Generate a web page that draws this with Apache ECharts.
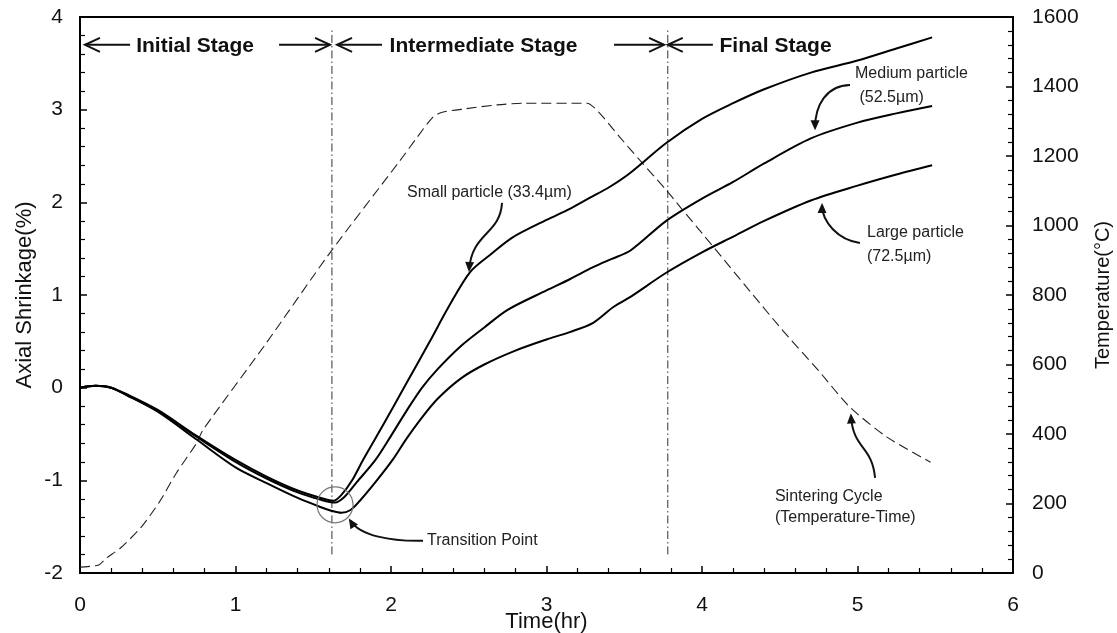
<!DOCTYPE html>
<html>
<head>
<meta charset="utf-8">
<script src="https://cdn.jsdelivr.net/npm/echarts@6/dist/echarts.min.js"></script>
<style>
  html, body { margin: 0; padding: 0; background: #fff; }
  #chart { width: 1117px; height: 633px; }
</style>
</head>
<body>
<div id="chart"></div>
<script>
const FONT = '"Liberation Sans", Arial, Helvetica, sans-serif';

// Axial shrinkage (%) versus time (hr) for the three particle sizes
const smallTime   = [0, 0.1, 0.2, 0.3, 0.5, 0.75, 1.0, 1.2, 1.4, 1.55, 1.63, 1.68, 1.75, 1.82, 1.95, 2.1, 2.25, 2.37, 2.51, 2.65, 2.78, 3.0, 3.15, 3.28, 3.4, 3.54, 3.77, 4.0, 4.2, 4.4, 4.7, 5.0, 5.25, 5.48];
const smallShrink = [0, 0.02, 0.0, -0.07, -0.24, -0.52, -0.78, -0.96, -1.11, -1.19, -1.22, -1.16, -1.0, -0.78, -0.40, 0.05, 0.50, 0.87, 1.25, 1.45, 1.62, 1.81, 1.93, 2.05, 2.16, 2.32, 2.64, 2.90, 3.07, 3.22, 3.40, 3.53, 3.66, 3.78];

const mediumTime   = [0, 0.1, 0.2, 0.3, 0.5, 0.75, 1.0, 1.2, 1.4, 1.55, 1.64, 1.7, 1.78, 1.9, 2.0, 2.1, 2.2, 2.3, 2.45, 2.6, 2.75, 3.0, 3.15, 3.3, 3.42, 3.54, 3.77, 4.0, 4.2, 4.4, 4.7, 5.0, 5.25, 5.48];
const mediumShrink = [0, 0.02, 0.0, -0.08, -0.25, -0.53, -0.80, -0.98, -1.13, -1.21, -1.24, -1.18, -1.02, -0.78, -0.52, -0.25, 0.0, 0.2, 0.45, 0.65, 0.84, 1.05, 1.17, 1.30, 1.39, 1.48, 1.80, 2.04, 2.22, 2.42, 2.69, 2.86, 2.96, 3.04];

const largeTime   = [0, 0.1, 0.2, 0.3, 0.5, 0.75, 1.0, 1.2, 1.4, 1.55, 1.62, 1.68, 1.74, 1.8, 1.9, 2.01, 2.1, 2.2, 2.3, 2.45, 2.6, 2.8, 3.0, 3.15, 3.3, 3.43, 3.54, 3.77, 4.0, 4.2, 4.4, 4.7, 5.0, 5.25, 5.48];
const largeShrink = [0, 0.02, 0.0, -0.08, -0.26, -0.56, -0.86, -1.03, -1.19, -1.29, -1.33, -1.35, -1.32, -1.22, -1.02, -0.78, -0.55, -0.32, -0.12, 0.10, 0.25, 0.40, 0.52, 0.60, 0.70, 0.87, 0.98, 1.24, 1.46, 1.63, 1.80, 2.02, 2.18, 2.30, 2.40];

// Sintering cycle: furnace temperature (°C) versus time (hr)
const tempTime  = [0, 0.12, 0.17, 0.26, 0.39, 0.51, 0.62, 0.75, 0.79, 1.2, 1.6, 2.06, 2.17, 2.27, 2.33, 2.48, 2.68, 2.85, 3.26, 3.34, 3.47, 3.60, 3.77, 3.86, 4.0, 4.5, 4.75, 4.95, 5.19, 5.47];
const tempValue = [17, 23, 43, 72, 130, 204, 288, 374, 411, 663, 917, 1188, 1255, 1312, 1326, 1336, 1347, 1352, 1352, 1324, 1255, 1188, 1102, 1053, 978, 708, 582, 478, 391, 319];

// Stage boundaries (hr)
const stageBounds = [1.62, 3.78];

const pairs = (xs, ys) => xs.map((x, i) => [x, ys[i]]);

const chart = echarts.init(document.getElementById('chart'), null, { renderer: 'canvas' });

const axisCommon = {
  axisLine: { show: true, onZero: false, lineStyle: { color: '#000', width: 2 } },
  axisTick: { show: true, inside: true, length: 7, lineStyle: { color: '#000', width: 1.5 } },
  minorTick: { show: true, splitNumber: 5, length: 5, lineStyle: { color: '#000', width: 1.2 } },
  splitLine: { show: false },
  minorSplitLine: { show: false },
  nameMoveOverlap: false,
  axisLabel: { color: '#111', fontFamily: FONT, fontSize: 21 },
  nameTextStyle: { color: '#111', fontFamily: FONT, fontSize: 20 }
};

const curveStyle = { color: '#000', width: 2 };

const series = [
  {
    name: 'Small particle (33.4µm)', type: 'line', xAxisIndex: 0, yAxisIndex: 0,
    data: pairs(smallTime, smallShrink), showSymbol: false, smooth: 0.3,
    lineStyle: curveStyle, z: 5, silent: true
  },
  {
    name: 'Medium particle (52.5µm)', type: 'line', xAxisIndex: 0, yAxisIndex: 0,
    data: pairs(mediumTime, mediumShrink), showSymbol: false, smooth: 0.3,
    lineStyle: curveStyle, z: 5, silent: true
  },
  {
    name: 'Large particle (72.5µm)', type: 'line', xAxisIndex: 0, yAxisIndex: 0,
    data: pairs(largeTime, largeShrink), showSymbol: false, smooth: 0.3,
    lineStyle: curveStyle, z: 5, silent: true
  },
  {
    name: 'Sintering Cycle', type: 'line', xAxisIndex: 0, yAxisIndex: 1,
    data: pairs(tempTime, tempValue), showSymbol: false, smooth: 0.25,
    lineStyle: { color: '#222', width: 1.1, type: [10, 5] }, z: 4, silent: true
  }
];

// Dash-dot boundaries between sintering stages
stageBounds.forEach(b => {
  series.push({
    type: 'line', xAxisIndex: 0, yAxisIndex: 0,
    data: [[b, -1.8], [b, 3.86]], showSymbol: false, silent: true,
    lineStyle: { color: '#333', width: 1, type: [8, 3, 1.5, 3] }, z: 3
  });
});

chart.setOption({
  animation: false,
  backgroundColor: '#fff',
  grid: {
    left: 80, right: 104, top: 17, bottom: 60,
    containLabel: false, outerBoundsMode: 'none',
    show: true, borderColor: '#000', borderWidth: 2, backgroundColor: 'transparent'
  },
  xAxis: Object.assign({}, axisCommon, {
    type: 'value', min: 0, max: 6, interval: 1,
    name: 'Time(hr)', nameLocation: 'middle', nameGap: 38,
    axisLabel: Object.assign({}, axisCommon.axisLabel, { margin: 22 }),
    nameTextStyle: Object.assign({}, axisCommon.nameTextStyle, { fontSize: 22 })
  }),
  yAxis: [
    Object.assign({}, axisCommon, {
      type: 'value', min: -2, max: 4, interval: 1, position: 'left',
      name: 'Axial Shrinkage(%)', nameLocation: 'middle', nameRotate: 90, nameGap: 44,
      axisLabel: Object.assign({}, axisCommon.axisLabel, { margin: 17 }),
      nameTextStyle: Object.assign({}, axisCommon.nameTextStyle, { fontSize: 22 })
    }),
    Object.assign({}, axisCommon, {
      type: 'value', min: 0, max: 1600, interval: 200, position: 'right',
      name: 'Temperature(°C)', nameLocation: 'middle', nameRotate: 90, nameGap: 80,
      axisLabel: Object.assign({}, axisCommon.axisLabel, { margin: 19, formatter: v => String(v) })
    })
  ],
  series: series
});

// ---- annotations (placed in time / shrinkage coordinates) ----
const px = (t, v) => chart.convertToPixel({ xAxisIndex: 0, yAxisIndex: 0 }, [t, v]);
const INK = '#111';
const graphics = [];

function addText(t, v, text, opts) {
  const [x, y] = px(t, v);
  graphics.push({
    type: 'text', x: x, y: y, z: 20, silent: true,
    style: Object.assign({
      text: text, fill: '#222', font: '16px ' + FONT,
      textAlign: 'left', textVerticalAlign: 'middle'
    }, opts || {})
  });
}

// horizontal arrow with an open chevron head
function stageArrow(t1, t2, v, headAtStart) {
  const [x1, y] = px(t1, v);
  const [x2] = px(t2, v);
  graphics.push({
    type: 'line', z: 20, silent: true,
    shape: { x1: x1, y1: y, x2: x2, y2: y },
    style: { stroke: INK, lineWidth: 2 }
  });
  const tipX = headAtStart ? x1 : x2;
  const dir = headAtStart ? 1 : -1;
  graphics.push({
    type: 'polyline', z: 20, silent: true,
    shape: { points: [[tipX + dir * 15, y - 7], [tipX, y], [tipX + dir * 15, y + 7]] },
    style: { stroke: INK, lineWidth: 2, fill: null }
  });
}

const stageY = 3.70;
const stages = [
  { label: 'Initial Stage', at: 0.74, left: [0.032, 0.322], right: [1.28, 1.608] },
  { label: 'Intermediate Stage', at: 2.595, left: [1.653, 1.942], right: [3.434, 3.756] },
  { label: 'Final Stage', at: 4.473, left: [3.78, 4.07], right: null }
];
stages.forEach(s => {
  const [x, y] = px(s.at, stageY);
  graphics.push({
    type: 'text', x: x, y: y + 1, z: 20, silent: true,
    style: { text: s.label, fill: '#111', font: 'bold 21px ' + FONT, textAlign: 'center', textVerticalAlign: 'middle' }
  });
  stageArrow(s.left[0], s.left[1], stageY, true);
  if (s.right) stageArrow(s.right[0], s.right[1], stageY, false);
});

// curved pointer with a filled head at its end
function pointer(p0, c1, c2, p1) {
  const a = px(p0[0], p0[1]), b = px(c1[0], c1[1]), c = px(c2[0], c2[1]), d = px(p1[0], p1[1]);
  graphics.push({
    type: 'bezierCurve', z: 20, silent: true,
    shape: { x1: a[0], y1: a[1], cpx1: b[0], cpy1: b[1], cpx2: c[0], cpy2: c[1], x2: d[0], y2: d[1] },
    style: { stroke: INK, lineWidth: 2, fill: null }
  });
  const dx = d[0] - c[0], dy = d[1] - c[1];
  const len = Math.hypot(dx, dy) || 1;
  const ux = dx / len, uy = dy / len;
  const L = 10, W = 4.5;
  const tip = [d[0] + ux * 2, d[1] + uy * 2];
  const base = [tip[0] - ux * L, tip[1] - uy * L];
  graphics.push({
    type: 'polygon', z: 21, silent: true,
    shape: { points: [tip, [base[0] - uy * W, base[1] + ux * W], [base[0] + uy * W, base[1] - ux * W]] },
    style: { fill: INK, stroke: null }
  });
}

// transition point marker
const tc = px(1.640, -1.264);
graphics.push({
  type: 'circle', z: 19, silent: true,
  shape: { cx: tc[0], cy: tc[1], r: 18 },
  style: { stroke: '#777', lineWidth: 1.2, fill: null }
});
pointer([2.206, -1.652], [2.0, -1.66], [1.80, -1.60], [1.736, -1.43]);
addText(2.232, -1.652, 'Transition Point');

// particle labels
addText(2.103, 2.101, 'Small particle (33.4µm)');
pointer([2.714, 1.994], [2.701, 1.648], [2.521, 1.681], [2.502, 1.27]);

addText(4.984, 3.385, 'Medium particle');
addText(4.984, 3.126, ' (52.5µm)');
pointer([4.952, 3.266], [4.80, 3.26], [4.727, 3.05], [4.727, 2.80]);

addText(5.061, 1.670, 'Large particle');
addText(5.061, 1.411, '(72.5µm)');
pointer([5.016, 1.562], [4.875, 1.594], [4.772, 1.789], [4.772, 1.97]);

addText(4.469, -1.178, 'Sintering Cycle');
addText(4.469, -1.404, '(Temperature-Time)');
pointer([5.113, -0.973], [5.093, -0.617], [4.971, -0.671], [4.958, -0.30]);

chart.setOption({ graphic: { elements: graphics } });
</script>
</body>
</html>
